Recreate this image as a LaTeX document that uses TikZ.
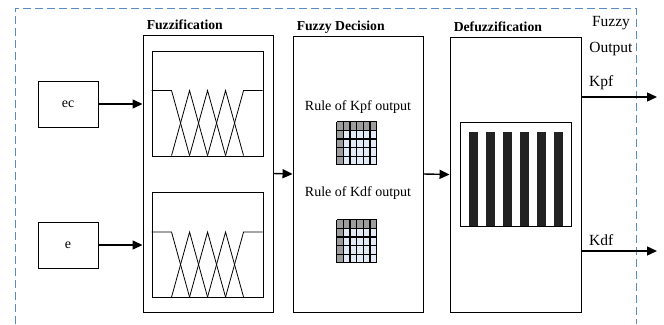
\documentclass[tikz,border=0pt]{standalone}
\usepackage{fontspec}
\setmainfont{Liberation Serif}
\usepackage{xcolor}
\usetikzlibrary{arrows.meta}

\definecolor{framecol}{HTML}{5A8AC6}
\definecolor{cellgray}{HTML}{9C9C9C}
\definecolor{cellblue}{HTML}{E2EAF5}
\definecolor{barcol}{HTML}{222222}

\tikzset{
  % membership functions inside a fuzzification box
  mfplot/.pic={
    \draw[thin line] (0,40) -- (20,40) -- (38,105);
    \foreach \k in {1,2,3}
      \draw[thin line] ({2+18*\k},105) -- ({20+18*\k},40) -- ({38+18*\k},105);
    \draw[thin line] (74,105) -- (92,40) -- (111,40);
  },
  % rule table
  rulegrid/.pic={
    \fill[cellblue] (0,0) rectangle (40,43);
    \fill[cellgray] (0,0) rectangle (40,8.6);
    \fill[cellgray] (0,0) rectangle (6.67,43);
    \foreach \c in {0,...,6}
      \draw[line width=1.3pt] ({\c*40/6},0) -- ++(0,43);
    \foreach \r in {0,...,5}
      \draw[line width=1.3pt] (0,{\r*43/5}) -- ++(40,0);
  }
}

\begin{document}
\begin{tikzpicture}[x=1pt, y=-1pt,
    thin line/.style={line width=0.8pt},
    block/.style={draw, line width=0.9pt, inner sep=0pt},
    title/.style={font=\fontsize{13.7}{16}\selectfont\bfseries, inner sep=0pt},
    txt/.style={font=\fontsize{14}{16}\selectfont, inner sep=0pt},
    outtxt/.style={font=\fontsize{15.5}{25}\selectfont, inner sep=0pt},
    flow/.style={line width=1.4pt, -{Triangle[length=10pt,width=9pt]}},
    frame/.style={draw=framecol, line width=0.9pt, dash pattern=on 8pt off 4pt}]
  \useasboundingbox (0,0) rectangle (664,324);

  % dashed border
  \draw[frame] (15,324) -- (15,8) -- (636,8) -- (636,324);

  % inputs
  \node[block, minimum width=60pt, minimum height=46pt] (ec) at (68,104) {};
  \node[txt] (ecText) at (ec.center) {ec};
  \node[block, minimum width=60pt, minimum height=46pt] (e) at (68,245) {};
  \node[txt] (eText) at (e.center) {e};

  % Fuzzification
  \node[block, minimum width=130pt, minimum height=277pt] (fuzz) at (208,173.5) {};
  \node[title, anchor=base west] (fuzzTitle) at ([xshift=4pt,yshift=5pt]fuzz.north west) {Fuzzification};
  \node[block, minimum width=111pt, minimum height=105pt] (mfTop) at (207.5,103.5) {};
  \pic at (mfTop.north west) {mfplot};
  \node[block, minimum width=111pt, minimum height=105pt] (mfBot) at (207.5,245) {};
  \pic at (mfBot.north west) {mfplot};

  % Fuzzy Decision
  \node[block, minimum width=130pt, minimum height=276pt] (dec) at (358,174) {};
  \node[title, anchor=base west] (decTitle) at ([xshift=4pt,yshift=5pt]dec.north west) {Fuzzy Decision};
  \node[txt] (ruleKpf) at (358,107) {Rule of Kpf output};
  \node[minimum width=40pt, minimum height=43pt, inner sep=0pt] (gridKpf) at (357,143.5) {};
  \pic at (gridKpf.north west) {rulegrid};
  \node[txt] (ruleKdf) at (358,193) {Rule of Kdf output};
  \node[minimum width=40pt, minimum height=43pt, inner sep=0pt] (gridKdf) at (357,241.5) {};
  \pic at (gridKdf.north west) {rulegrid};

  % Defuzzification
  \node[block, minimum width=131pt, minimum height=275pt] (defuzz) at (515.5,174.5) {};
  \node[title, anchor=base west] (defuzzTitle) at ([xshift=4pt,yshift=5pt]defuzz.north west) {Defuzzification};
  \node[block, minimum width=111pt, minimum height=104pt] (bars) at (515.5,174) {};
  \foreach \b in {0,...,5}
    \fill[barcol] ({469+17*\b},132) rectangle ++(9,94);

  % connectors
  \draw[flow] (ec.east) -- (fuzz.west |- ec.east);
  \draw[flow] (e.east) -- (fuzz.west |- e.east);
  \draw[flow] (fuzz.east) -- (dec.west);
  \draw[flow] (dec.east) -- (defuzz.west);

  % outputs
  \coordinate (kpfEnd) at (657,97);
  \coordinate (kdfEnd) at (657,251);
  \draw[flow] (defuzz.east |- kpfEnd) -- (kpfEnd);
  \draw[flow] (defuzz.east |- kdfEnd) -- (kdfEnd);
  \node[outtxt, align=center, anchor=base] (fuzzyOut) at (611,52) {Fuzzy\\Output};
  \node[outtxt, anchor=base west] (kpfText) at (589,86) {Kpf};
  \node[outtxt, anchor=base west] (kdfText) at (589,245) {Kdf};
\end{tikzpicture}
\end{document}
